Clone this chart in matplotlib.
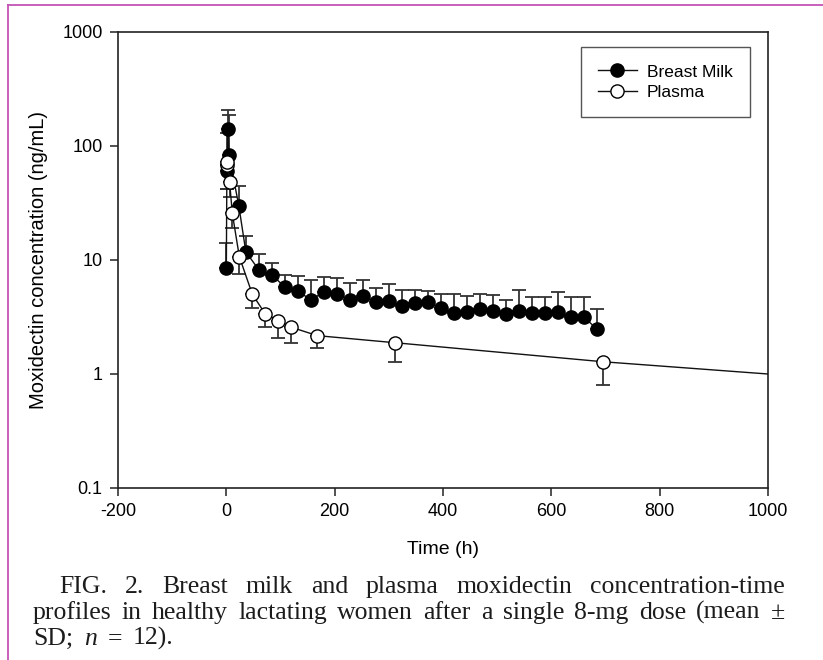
import matplotlib.pyplot as plt
from matplotlib.lines import Line2D
from matplotlib.ticker import NullLocator

# breast milk: time (h), mean, SD (upper bars)
milk_t = [0, 1, 3, 5, 23, 36, 60, 84, 108, 132, 156, 180, 204, 228, 252, 276,
          300, 324, 348, 372, 396, 420, 444, 468, 492, 516, 540, 564, 588,
          612, 636, 660, 684]
milk_conc = [8.5, 60, 140, 83, 30, 11.8, 8.2, 7.4, 5.8, 5.3, 4.5, 5.2, 5.0,
             4.5, 4.8, 4.3, 4.4, 3.95, 4.17, 4.3, 3.77, 3.45, 3.5, 3.7, 3.6,
             3.36, 3.6, 3.4, 3.4, 3.5, 3.18, 3.18, 2.47]
milk_sd = [5.5, 70, 67, 104, 14.6, 4.5, 3.0, 2.0, 1.6, 1.9, 2.2, 1.9, 1.9,
           1.75, 1.9, 1.35, 1.7, 1.55, 1.33, 1.1, 1.23, 1.55, 1.33, 1.3, 1.3,
           1.14, 1.9, 1.35, 1.35, 1.7, 1.57, 1.57, 1.23]

# plasma: time (h), mean, SD (lower bars)
plasma_t = [1, 2, 6, 11, 24, 48, 72, 96, 120, 168, 312, 696]
plasma_conc = [68, 72.8, 48.6, 25.7, 10.7, 5.0, 3.36, 2.94, 2.57, 2.17, 1.88, 1.28]
plasma_sd = [26, 30.8, 12.6, 6.7, 3.1, 1.2, 0.79, 0.88, 0.69, 0.49, 0.61, 0.48]
# extrapolated terminal line
plasma_tail_t = [696, 1000]
plasma_tail = [1.28, 1.0]

x_ticks = [-200, 0, 200, 400, 600, 800, 1000]
y_ticks = [0.1, 1, 10, 100, 1000]
y_labels = ['0.1', '1', '10', '100', '1000']

caption = [
    [("FIG.", 0), ("2.", 0), ("Breast", 0), ("milk", 0), ("and", 0), ("plasma", 0),
     ("moxidectin", 0), ("concentration-time", 0)],
    [("profiles", 0), ("in", 0), ("healthy", 0), ("lactating", 0), ("women", 0),
     ("after", 0), ("a", 0), ("single", 0), ("8-mg", 0), ("dose", 0), ("(mean", 0),
     ("\u00b1", 0)],
    [("SD;", 0), ("n", 1), ("=", 0), ("12).", 0)],
]

W, H = 823, 660
plt.rcParams['font.family'] = ['Liberation Sans', 'DejaVu Sans']
fig = plt.figure(figsize=(W / 100, H / 100), dpi=100)
ax = fig.add_axes([118 / W, 1 - 488 / H, 650 / W, 456 / H])

ax.errorbar(milk_t, milk_conc, yerr=[[0] * len(milk_sd), milk_sd], fmt='none',
            ecolor='#333333', elinewidth=1.3, capsize=5, capthick=1.3, zorder=2)
ax.errorbar(plasma_t, plasma_conc, yerr=[plasma_sd, [0] * len(plasma_sd)], fmt='none',
            ecolor='#333333', elinewidth=1.3, capsize=5, capthick=1.3, zorder=2)
ax.plot(plasma_tail_t, plasma_tail, color='#111111', lw=1.0, zorder=3)
ax.plot(milk_t, milk_conc, '-o', color='#111111', lw=1.0, ms=9.5, mfc='black',
        mec='black', zorder=4, label='Breast Milk')
ax.plot(plasma_t, plasma_conc, '-o', color='#111111', lw=1.0, ms=9.5, mfc='white',
        mec='black', mew=1.0, zorder=5, label='Plasma')

ax.set_yscale('log')
ax.set_xlim(-200, 1000)
ax.set_ylim(0.1, 1000)
ax.set_xticks(x_ticks)
ax.set_xticklabels([str(v) for v in x_ticks])
ax.set_yticks(y_ticks)
ax.set_yticklabels(y_labels)
ax.yaxis.set_minor_locator(NullLocator())
ax.tick_params(direction='out', length=6, width=1.1, labelsize=13, pad=5,
               top=False, right=False, color='#222222')
for s in ax.spines.values():
    s.set_linewidth(1.2)
    s.set_color('#222222')

ax.set_xlabel('Time (h)', fontsize=14, labelpad=15)
ax.set_ylabel('Moxidectin concentration (ng/mL)', fontsize=14.5, labelpad=10)

leg = ax.legend(loc='upper left', bbox_to_anchor=(581 / W, 1 - 47 / H),
                bbox_transform=fig.transFigure, borderaxespad=0, fontsize=12.5,
                fancybox=False, framealpha=1, edgecolor='#555555',
                handlelength=2.2, handletextpad=0.6, labelspacing=0.3,
                borderpad=1.0)
leg.get_frame().set_linewidth(1.0)

# magenta border (top and left)
fig.add_artist(Line2D([8 / W, 1], [1 - 4.5 / H, 1 - 4.5 / H], transform=fig.transFigure,
                      color='#c453b5', lw=1.3))
fig.add_artist(Line2D([8 / W, 8 / W], [0, 1 - 4.5 / H], transform=fig.transFigure,
                      color='#c453b5', lw=1.3))

# justified caption
fig.canvas.draw()
r = fig.canvas.get_renderer()
fs = 18.5
lines_pos = [(59, 785, 593, True), (33, 785, 619, True), (33, 785, 645, False)]
for tokens, (x0, x1, base, justify) in zip(caption, lines_pos):
    objs = [fig.text(0, 1 - base / H, w, fontsize=fs, family='Liberation Serif',
                     style='italic' if it else 'normal', va='baseline', ha='left',
                     color='#1c1c1c') for w, it in tokens]
    widths = [o.get_window_extent(r).width for o in objs]
    if justify:
        gap = (x1 - x0 - sum(widths)) / (len(objs) - 1)
    else:
        gap = 0.42 * fs * 100 / 72
    x = x0
    for o, w in zip(objs, widths):
        o.set_x(x / W)
        x += w + gap

fig.savefig('out.png', dpi=100)
